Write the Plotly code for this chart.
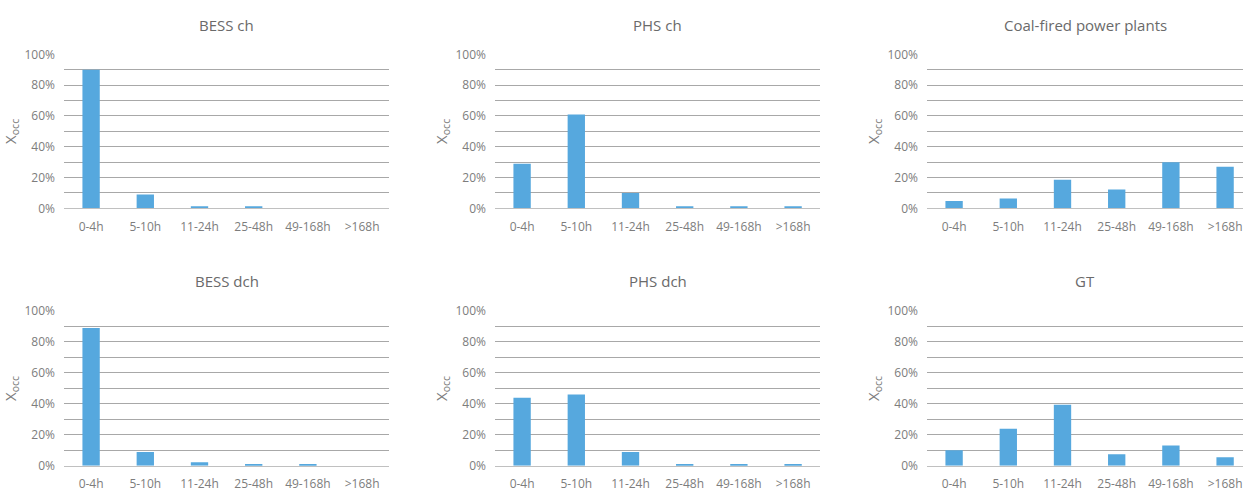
import plotly.graph_objects as go

# Duration bins shared by every panel
categories = ["0-4h", "5-10h", "11-24h", "25-48h", "49-168h", ">168h"]

# Share of occurrences per duration bin (%)
bess_ch = [90, 9, 1, 1, 0, 0]
phs_ch = [29, 61, 10, 1, 1, 1]
coal = [4.7, 6.4, 18.6, 12.2, 30, 27]
bess_dch = [89, 9, 2.4, 1, 1, 0]
phs_dch = [44, 46, 9, 1, 1, 1]
gt = [10, 24, 39.5, 7.5, 13.2, 5.6]

panel_titles = ["BESS ch", "PHS ch", "Coal-fired power plants",
                "BESS dch", "PHS dch", "GT"]
panel_values = [bess_ch, phs_ch, coal, bess_dch, phs_dch, gt]

y_ticks = [0, 20, 40, 60, 80, 100]
y_tick_labels = ["0%", "20%", "40%", "60%", "80%", "100%"]

W, H = 1243, 492
BAR = "#56a8de"
TEXT = "#7d7d7d"
GRID = "#a8a8a8"
FONT = "Open Sans"

# Plot-area boxes in layout pixels: (left, right) per column, (top, bottom) per row
cols = [(64, 389), (495, 820), (927, 1243)]
rows = [(47.8, 210.0), (318.1, 481.3)]
title_y = [16.6, 286.9]
cat_px = 54.2  # width of one category slot

fig = go.Figure()
for i, (title, vals) in enumerate(zip(panel_titles, panel_values)):
    r, c = divmod(i, 3)
    x0, x1 = cols[c]
    y0, y1 = rows[r]
    n = i + 1
    xa = "x" if n == 1 else f"x{n}"
    ya = "y" if n == 1 else f"y{n}"
    fig.add_trace(go.Bar(x=categories, y=vals, marker_color=BAR,
                         marker_line_width=0, xaxis=xa, yaxis=ya,
                         showlegend=False))
    span = (x1 - x0) / cat_px
    fig.layout[f"xaxis{'' if n == 1 else n}"] = dict(
        domain=[x0 / W, x1 / W], anchor=ya,
        range=[-0.5, -0.5 + span], type="category",
        showgrid=False, ticks="", showline=True, linecolor="#c0c0c0",
        linewidth=1, ticklabelstandoff=7,
        tickfont=dict(family=FONT, size=12, color=TEXT),
        fixedrange=True,
    )
    fig.layout[f"yaxis{'' if n == 1 else n}"] = dict(
        domain=[1 - y1 / H, 1 - y0 / H], anchor=xa,
        range=[0, 100], tickvals=y_ticks, ticktext=y_tick_labels,
        showgrid=True, gridcolor=GRID, gridwidth=1,
        minor=dict(tickvals=[10, 30, 50, 70, 90], showgrid=True,
                   gridcolor=GRID, gridwidth=1),
        zeroline=False, showline=False, ticks="", ticklabelstandoff=8,
        tickfont=dict(family=FONT, size=12, color=TEXT),
        title=dict(text="X<sub>occ</sub>", standoff=4,
                   font=dict(family=FONT, size=15, color=TEXT)),
        fixedrange=True,
    )
    fig.add_annotation(
        text=title, xref="paper", yref="paper",
        x=((x0 + min(x1, x0 + 6 * cat_px)) / 2) / W,
        y=1 - title_y[r] / H, xanchor="center", yanchor="middle",
        showarrow=False, font=dict(family=FONT, size=15, color="#6a6a6a"),
    )

fig.update_layout(
    width=W, height=H,
    margin=dict(l=0, r=0, t=0, b=0),
    paper_bgcolor="white", plot_bgcolor="white",
    bargap=0.68,
)
fig.write_html("out.html")
